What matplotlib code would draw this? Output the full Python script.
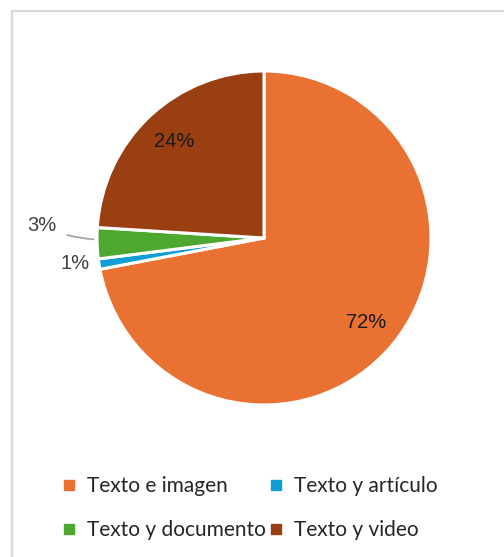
import numpy as np
import matplotlib.pyplot as plt
from matplotlib.lines import Line2D

# Share of each content type
CATEGORIES = ["Texto e imagen", "Texto y artículo", "Texto y documento", "Texto y video"]
SHARES = [72, 1, 3, 24]
COLORS = ["#E97132", "#0F9ED5", "#4EA72E", "#9A3F12"]

W, H = 504, 557
fig = plt.figure(figsize=(W / 100, H / 100), dpi=100)
ax = fig.add_axes([0, 0, 1, 1])
ax.set_xlim(0, W)
ax.set_ylim(0, H)
ax.set_aspect("equal")
ax.axis("off")

# chart frame (only left and top edges fall inside the image)
ax.plot([11.5, 11.5], [0, H - 10], color="#D9D9D9", lw=1.6, solid_capstyle="butt")
ax.plot([11, W], [H - 10.5, H - 10.5], color="#D9D9D9", lw=1.6, solid_capstyle="butt")

cx, cy, R = 264, H - 238, 167
wedges, _ = ax.pie(SHARES, colors=COLORS, startangle=90, counterclock=False,
                   center=(cx, cy), radius=R,
                   wedgeprops=dict(edgecolor="white", linewidth=2.2))
ax.set_xlim(0, W)
ax.set_ylim(0, H)

label_kw = dict(fontsize=14.5, family="Liberation Sans", ha="center", va="center")

def mid_angle(w):
    return np.deg2rad((w.theta1 + w.theta2) / 2)

# big slices: labels inside
for i in (0, 3):
    a = mid_angle(wedges[i])
    ax.text(cx + 0.79 * R * np.cos(a), cy + 0.79 * R * np.sin(a),
            f"{SHARES[i]:.0f}%", color="#1A1A1A", **label_kw)

# small slices: labels outside
a = mid_angle(wedges[1])
ax.text(cx + 1.15 * R * np.cos(a) + 1, cy + 1.15 * R * np.sin(a) + 5,
        f"{SHARES[1]:.0f}%", color="#404040", **label_kw)

a = mid_angle(wedges[2])
ex, ey = cx + 1.02 * R * np.cos(a), cy + 1.02 * R * np.sin(a)
ax.annotate(f"{SHARES[2]:.0f}%", xy=(ex, ey + 4), xytext=(ex - 52, ey + 18),
            color="#404040",
            arrowprops=dict(arrowstyle="-", color="#A6A6A6", lw=1.3,
                            shrinkA=6, shrinkB=0,
                            connectionstyle="arc3,rad=0.1"),
            **label_kw)

# legend, row-major order in two columns
order = [0, 2, 1, 3]
handles = [Line2D([], [], marker="s", linestyle="none", markersize=6.5,
                  markerfacecolor=COLORS[i], markeredgecolor=COLORS[i]) for i in order]
fig.legend(handles, [CATEGORIES[i] for i in order], ncol=2,
           loc="center", bbox_to_anchor=(0.5 - 4 / W, (H - 508) / H),
           frameon=False, prop=dict(family="Lato", size=15),
           labelcolor="#262626", handletextpad=0.35, handlelength=1.0,
           columnspacing=0.0, labelspacing=1.15)

fig.savefig("out.png", dpi=100, facecolor="white")
